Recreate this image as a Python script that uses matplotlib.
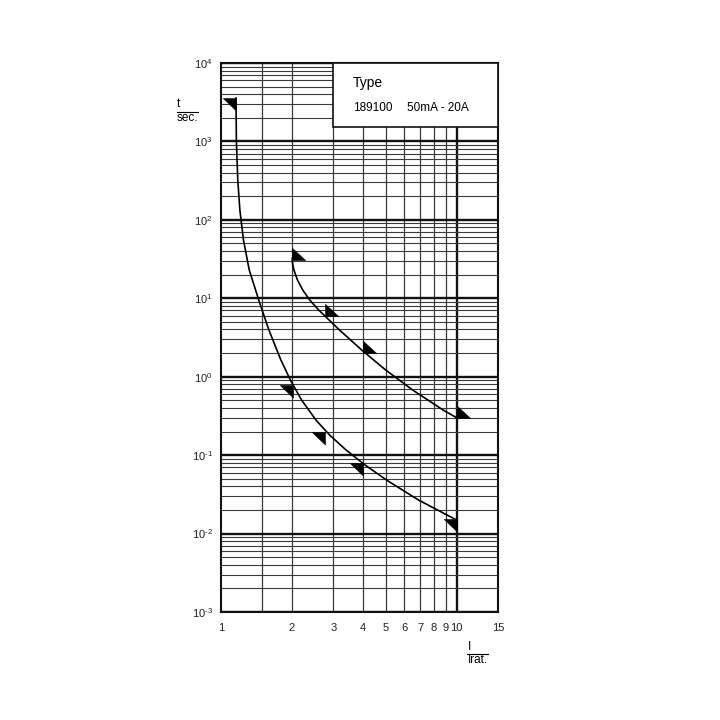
import matplotlib
matplotlib.use("Agg")
import matplotlib.pyplot as plt
from matplotlib.ticker import FixedLocator, NullLocator
from matplotlib.patches import Rectangle
from matplotlib.lines import Line2D

plt.rcParams['font.family'] = ['Liberation Sans', 'DejaVu Sans']
plt.rcParams['mathtext.fontset'] = 'custom'
plt.rcParams['mathtext.rm'] = 'Liberation Sans'
plt.rcParams['mathtext.default'] = 'rm'
plt.rcParams['axes.unicode_minus'] = False

# Kennlinie 1 (untere Kurve): I/Irat -> t [s]
kurve1_I = [1.1577, 1.1622, 1.1782, 1.2025, 1.2457, 1.318, 1.4462, 1.5971, 1.796,
            1.9703, 2.1977, 2.529, 2.8908, 3.3954, 4.0911, 5.0415, 6.889, 10.0]
kurve1_t = [3578, 1012.7, 322.3, 133.6, 55.37, 22.95, 9.51, 3.942, 1.634,
            0.9082, 0.5049, 0.2807, 0.1806, 0.1163, 0.07487, 0.04822, 0.02682, 0.0149]

# Kennlinie 2 (obere Kurve)
kurve2_I = [2.0053, 2.0151, 2.0398, 2.1117, 2.2236, 2.3806, 2.5987, 3.1843,
            3.9574, 5.0023, 6.5108, 8.7668, 10.0]
kurve2_t = [32.36, 27.37, 22.95, 17.11, 12.76, 9.511, 7.092, 3.942,
            2.191, 1.218, 0.6771, 0.3763, 0.3003]

# Dreiecksmarken auf den Kurven
marke1_I = [1.158, 2.025, 2.759, 3.997, 10.0]
marke1_t = [3578, 0.784, 0.199, 0.0794, 0.0152]
marke2_I = [2.0, 2.759, 3.997, 10.0]
marke2_t = [30.8, 6.03, 2.006, 0.298]

x_ticks = [1, 2, 3, 4, 5, 6, 7, 8, 9, 10, 15]
x_labels = ['1', '2', '3', '4', '5', '6', '7', '8', '9', '10', '15']
x_grid = [1.5, 2, 3, 4, 5, 6, 7, 8, 9]
y_exp = [-3, -2, -1, 0, 1, 2, 3, 4]

typ_titel = 'Type'
typ_nr = '189100'
typ_bereich = '50mA - 20A'

fig = plt.figure(figsize=(7.2, 7.2), dpi=100)
ax = fig.add_axes([221 / 720, 108 / 720, 277 / 720, 549 / 720])
ax.set_xscale('log')
ax.set_yscale('log')
ax.set_xlim(1, 15)
ax.set_ylim(1e-3, 1e4)

# Gitter
ax.yaxis.set_major_locator(FixedLocator([10.0 ** e for e in y_exp]))
ax.yaxis.set_minor_locator(FixedLocator([m * 10.0 ** e for e in y_exp[:-1] for m in range(2, 10)]))
# Bindestrich statt Minuszeichen im Exponenten
ax.set_yticklabels([r'$10^{\text{%d}}$' % e for e in y_exp])
ax.grid(True, which='major', axis='y', color='#111111', lw=1.7)
ax.grid(True, which='minor', axis='y', color='#3a3a3a', lw=0.8)
for xg in x_grid:
    ax.axvline(xg, color='#3a3a3a', lw=0.9, zorder=0.5)
ax.axvline(10, color='#111111', lw=1.7, zorder=0.5)

ax.xaxis.set_major_locator(FixedLocator(x_ticks))
ax.xaxis.set_minor_locator(NullLocator())
ax.set_xticklabels(x_labels)
ax.tick_params(which='both', length=0, labelsize=8, colors='#222222')
ax.tick_params(axis='x', pad=8)
ax.tick_params(axis='y', pad=6)
for s in ax.spines.values():
    s.set_linewidth(1.5)
    s.set_color('#111111')

# Kurven
ax.plot(kurve1_I, kurve1_t, color='black', lw=1.2, zorder=3)
ax.plot(kurve2_I, kurve2_t, color='black', lw=1.2, zorder=3)

dreieck_or = [(0, 0), (-1, 0), (0, -0.95), (0, 0)]   # rechter Winkel oben rechts
dreieck_ul = [(0, 0), (0, 0.92), (1, 0), (0, 0)]     # rechter Winkel unten links
ax.plot(marke1_I, marke1_t, ls='none', marker=dreieck_or, ms=19, color='black',
        mew=0.4, zorder=4, clip_on=False)
ax.plot(marke2_I, marke2_t, ls='none', marker=dreieck_ul, ms=19, color='black',
        mew=0.4, zorder=4, clip_on=False)

# Typenfeld
ax.add_patch(Rectangle((0.404, 0.883), 0.596, 0.117, transform=ax.transAxes,
                       facecolor='white', edgecolor='#111111', lw=1.2, zorder=5))
ax.text(0.475, 0.964, typ_titel, transform=ax.transAxes, fontsize=10,
        ha='left', va='center', zorder=6)
ax.text(0.475, 0.918, typ_nr, transform=ax.transAxes, fontsize=8.5,
        ha='left', va='center', zorder=6)
ax.text(0.670, 0.918, typ_bereich, transform=ax.transAxes, fontsize=8.5,
        ha='left', va='center', zorder=6)

# Achsenbeschriftungen als Bruch
fig.text(177 / 720, 1 - 104 / 720, 't', fontsize=8.5, ha='left', va='center')
fig.add_artist(Line2D([177 / 720, 198 / 720], [1 - 112 / 720] * 2, color='black', lw=0.8))
fig.text(177 / 720, 1 - 118 / 720, 'sec.', fontsize=8.5, ha='left', va='center')

fig.text(468 / 720, 1 - 647 / 720, 'I', fontsize=8.5, ha='left', va='center')
fig.add_artist(Line2D([467 / 720, 488 / 720], [1 - 653.5 / 720] * 2, color='black', lw=0.8))
fig.text(468 / 720, 1 - 660 / 720, 'Irat.', fontsize=8.5, ha='left', va='center')

fig.savefig('out.png', dpi=100, facecolor='white')
